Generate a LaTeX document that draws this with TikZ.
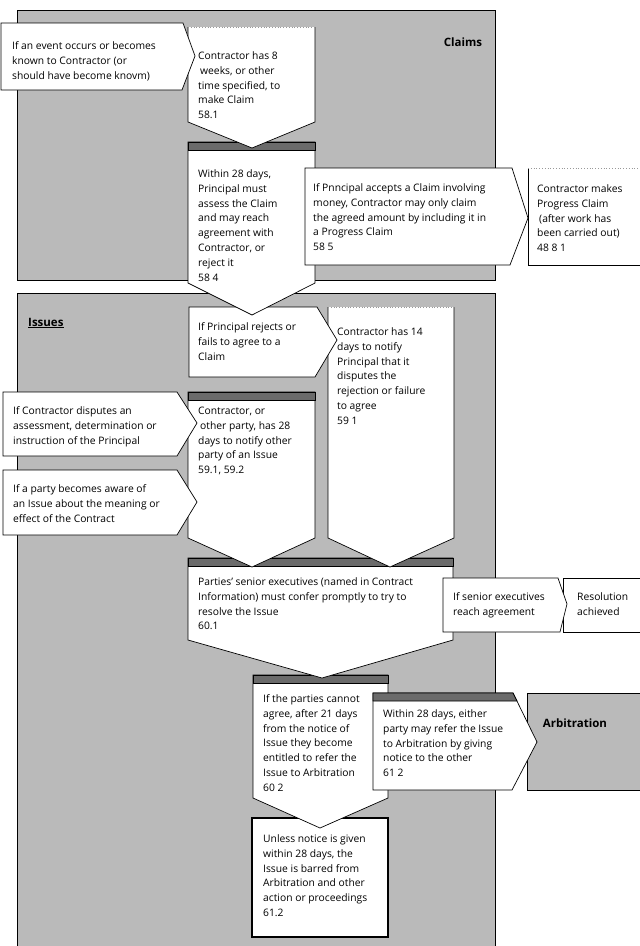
\documentclass[tikz,border=0pt]{standalone}
\usepackage{fontspec}
\setmainfont{Open Sans}
\definecolor{panelgray}{gray}{0.73}
\definecolor{bandgray}{gray}{0.42}
\definecolor{faintgray}{gray}{0.6}
\newcommand{\bxfont}{\fontsize{10.3}{14.8}\selectfont}
\begin{document}
\begin{tikzpicture}[x=1pt,y=-1pt,
  panel/.style={fill=panelgray, draw=black, line width=0.6pt},
  wbox/.style={fill=white, draw=black, line width=0.7pt},
  edge/.style={draw=black, line width=0.7pt},
  band/.style={fill=bandgray, draw=black, line width=0.7pt},
  faint/.style={draw=faintgray, dotted, line width=0.8pt},
  txt/.style={anchor=north west, inner sep=0pt, align=left, font=\bxfont},
  lbl/.style={inner sep=0pt, font=\fontsize{11.5}{13}\selectfont\bfseries}]
\useasboundingbox (0,0) rectangle (640,946);
\fill[white] (0,0) rectangle (640,946);

% panels
\draw[panel] (17,10) rectangle (495,280);
\draw[panel] (17,293) rectangle (495,960);
\draw[panel] (527,693) rectangle (650,790);

% box 17
\draw[wbox, line width=1.8pt] (252,818) rectangle (388,937);
% box 14
\draw[wbox] (253,675) -- (388,675) -- (388,798) -- (320,828) -- (253,798) -- cycle;
\draw[band] (253,675) rectangle (388,683);
% box 15
\draw[wbox] (373,693) -- (513,693) -- (537,742) -- (512,790) -- (373,790) -- cycle;
\draw[band] (373,693) -- (513,693) -- (517,701) -- (373,701) -- cycle;
% box 11
\draw[wbox] (188,558) -- (453,558) -- (453,640) -- (322,678) -- (188,640) -- cycle;
\draw[band] (188,558) rectangle (453,566);
% box 13
\draw[wbox] (563,578) rectangle (650,632);
% box 12
\draw[wbox] (443,578) -- (558,578) -- (567,604) -- (560,632) -- (443,632) -- cycle;
% box 10
\draw[wbox] (188,392) -- (315,392) -- (315,538) -- (252,567) -- (188,538) -- cycle;
\draw[band] (188,392) rectangle (315,400);
% box 7
\fill[white] (328,307) -- (454,307) -- (454,538) -- (390,567) -- (328,538) -- cycle;
\draw[edge] (328,307) -- (328,538) -- (390,567) -- (454,538) -- (454,307);
\draw[faint] (328,307) -- (454,307);
% box 8, 9
\draw[wbox] (3,392) -- (177,392) -- (197,423) -- (177,456) -- (3,456) -- cycle;
\draw[wbox] (3,470) -- (177,470) -- (197,502) -- (177,535) -- (3,535) -- cycle;
% box 6
\draw[wbox] (189,307) -- (317,307) -- (337,340) -- (315,377) -- (189,377) -- cycle;
% box 3
\draw[wbox] (188,142) -- (315,142) -- (315,283) -- (252,315) -- (188,283) -- cycle;
\draw[band] (188,142) rectangle (315,150);
% box 5
\fill[white] (528,168) rectangle (650,265);
\draw[edge] (528,168) -- (528,265) -- (650,265);
\draw[faint] (528,168) -- (640,168);
% box 4
\draw[wbox] (305,168) -- (512,168) -- (528,218) -- (510,265) -- (305,265) -- cycle;
% box 2
\fill[white] (188,27) -- (315,27) -- (315,122) -- (252,148) -- (188,122) -- cycle;
\draw[edge] (188,27) -- (188,122) -- (252,148) -- (315,122) -- (315,27);
\draw[faint] (188,27) -- (315,27);
% box 1
\draw[wbox] (1,23) -- (183,23) -- (195,56) -- (182,90) -- (1,90) -- cycle;

% labels
\node[lbl] (claims) at (463,42) {Claims};
\node[lbl, anchor=west] (issues) at (28,323) {\underline{Issues}};
\node[lbl] (arb) at (575,723) {Arbitration};

% texts
\node[txt] (t1) at (12,39) {\strut If an event occurs or becomes\\known to Contractor (or\\should have become knovm)};
\node[txt] (t2) at (198,49) {\strut Contractor has 8\\\hspace{2pt}weeks, or other\\time specified, to\\make Claim\\58.1};
\node[txt] (t3) at (198,167) {\strut Within 28 days,\\Principal must\\assess the Claim\\and may reach\\agreement with\\Contractor, or\\reject it\\58 4};
\node[txt] (t4) at (313,181) {\strut If Pnncipal accepts a Claim involving\\money, Contractor may only claim\\the agreed amount by including it in\\a Progress Claim\\58 5};
\node[txt] (t5) at (537,182) {\strut Contractor makes\\Progress Claim\\\hspace{2pt}(after work has\\been carried out)\\48 8 1};
\node[txt] (t6) at (198,320) {\strut If Principal rejects or\\fails to agree to a\\Claim};
\node[txt] (t7) at (337,325) {\strut Contractor has 14\\days to notify\\Principal that it\\disputes the\\rejection or failure\\to agree\\59 1};
\node[txt] (t8) at (13,404) {\strut If Contractor disputes an\\assessment, determination or\\instruction of the Principal};
\node[txt] (t9) at (13,482) {\strut If a party becomes aware of\\an Issue about the meaning or\\effect of the Contract};
\node[txt] (t10) at (198,404) {\strut Contractor, or\\\hspace{2pt}other party, has 28\\days to notify other\\party of an Issue\\59.1, 59.2};
\node[txt] (t11) at (198,575) {\strut Parties' senior executives (named in Contract\\Information) must confer promptly to try to\\resolve the Issue\\60.1};
\node[txt] (t12) at (453,590) {\strut If senior executives\\reach agreement};
\node[txt] (t13) at (577,590) {\strut Resolution\\achieved};
\node[txt] (t14) at (263,692) {\strut If the parties cannot\\agree, after 21 days\\from the notice of\\Issue they become\\entitled to refer the\\Issue to Arbitration\\60 2};
\node[txt] (t15) at (383,707) {\strut Within 28 days, either\\party may refer the Issue\\to Arbitration by giving\\notice to the other\\61 2};
\node[txt] (t17) at (263,832) {\strut Unless notice is given\\within 28 days, the\\Issue is barred from\\Arbitration and other\\action or proceedings\\61.2};
\end{tikzpicture}
\end{document}
